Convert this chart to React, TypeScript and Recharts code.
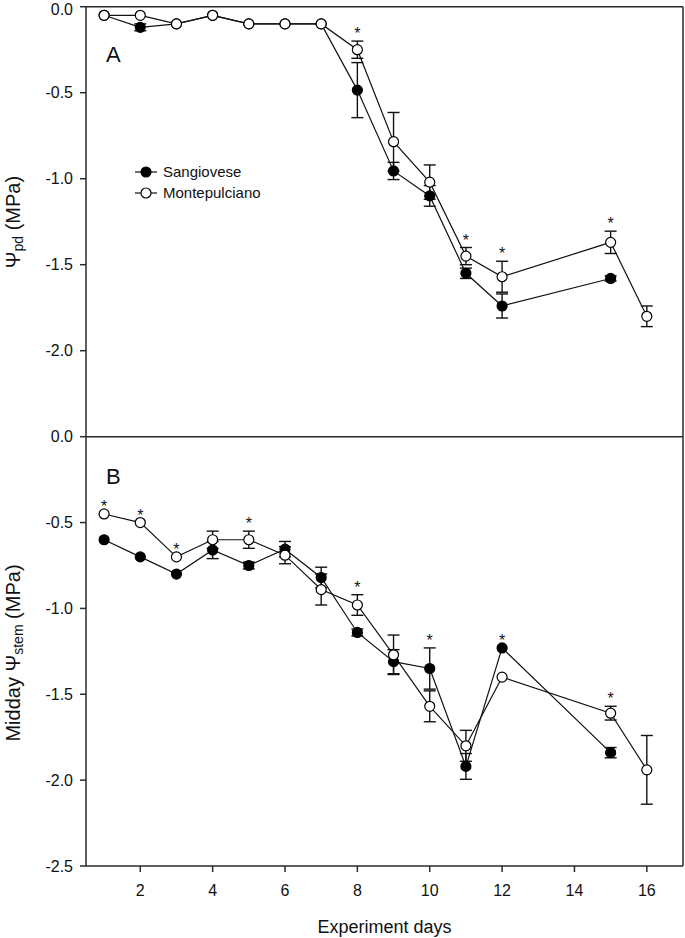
import React from 'react';
import { ComposedChart, Line, XAxis, YAxis, ErrorBar, ReferenceLine, Legend } from 'recharts';

const days = [1, 2, 3, 4, 5, 6, 7, 8, 9, 10, 11, 12, 15, 16];
const xTicks = [2, 4, 6, 8, 10, 12, 14, 16];
const seriesNames = ['Sangiovese', 'Montepulciano'];

// Panel A: predawn water potential (MPa)
const pdSangiovese = [-0.05, -0.12, -0.1, -0.05, -0.1, -0.1, -0.1, -0.485, -0.955, -1.1, -1.55, -1.74, -1.58, null];
const pdSangioveseErr = [0, 0.02, 0, 0, 0, 0, 0, 0.16, 0.05, 0.06, 0.03, 0.07, 0.015, 0];
const pdMontepulciano = [-0.05, -0.05, -0.1, -0.05, -0.1, -0.1, -0.1, -0.25, -0.785, -1.02, -1.45, -1.57, -1.37, -1.8];
const pdMontepulcianoErr = [0, 0, 0, 0, 0, 0, 0, 0.05, 0.17, 0.1, 0.05, 0.09, 0.065, 0.06];
const pdStars = [8, 11, 12, 15];
const pdTicks = [0, -0.5, -1, -1.5, -2];

// Panel B: midday stem water potential (MPa)
const stemSangiovese = [-0.6, -0.7, -0.8, -0.66, -0.75, -0.655, -0.82, -1.14, -1.31, -1.35, -1.92, -1.23, -1.84, null];
const stemSangioveseErr = [0, 0, 0, 0.05, 0.02, 0.045, 0.06, 0.02, 0.07, 0.12, 0.075, 0, 0.03, 0];
const stemMontepulciano = [-0.45, -0.5, -0.7, -0.6, -0.6, -0.69, -0.89, -0.98, -1.27, -1.57, -1.8, -1.4, -1.61, -1.94];
const stemMontepulcianoErr = [0, 0, 0, 0.05, 0.05, 0.05, 0.09, 0.06, 0.115, 0.09, 0.09, 0, 0.04, 0.2];
const stemStars = [1, 2, 3, 5, 8, 10, 12, 15];
const stemTicks = [0, -0.5, -1, -1.5, -2, -2.5];

type Row = { day: number; s: number | null; se: number | null; m: number | null; me: number | null; star: number | null };

function buildRows(s: (number | null)[], se: number[], m: (number | null)[], me: number[], stars: number[]): Row[] {
  return days.map((d, i) => {
    const tops: number[] = [];
    if (s[i] != null) tops.push((s[i] as number) + se[i]);
    if (m[i] != null) tops.push((m[i] as number) + me[i]);
    return {
      day: d,
      s: s[i],
      se: s[i] != null && se[i] > 0 ? se[i] : null,
      m: m[i],
      me: m[i] != null && me[i] > 0 ? me[i] : null,
      star: stars.includes(d) && tops.length ? Math.max(...tops) : null,
    };
  });
}

const rowsA = buildRows(pdSangiovese, pdSangioveseErr, pdMontepulciano, pdMontepulcianoErr, pdStars);
const rowsB = buildRows(stemSangiovese, stemSangioveseErr, stemMontepulciano, stemMontepulcianoErr, stemStars);

const FONT = '"Liberation Sans", Arial, sans-serif';
const INK = '#111';
const AXIS = '#2a2a2a';

const StarDot = (props: any) => {
  const { cx, cy, value } = props;
  if (value == null || cx == null || cy == null || isNaN(cy)) return <g key={props.key} />;
  return (
    <text key={props.key} x={cx} y={cy - 2} textAnchor="middle" fontSize={16} fill={INK} fontFamily={FONT}>
      *
    </text>
  );
};

const YTick = (props: any) => {
  const { x, y, payload } = props;
  return (
    <text x={x} y={Math.max(y, 9.5)} dy="0.355em" textAnchor="end" fontSize={16} fill={INK} fontFamily={FONT}>
      {Number(payload.value).toFixed(1)}
    </text>
  );
};

const PdTitle = () => (
  <text x={13} y={222} transform="rotate(-90 13 222)" textAnchor="middle" dominantBaseline="central" fontSize={20} fill={INK} fontFamily={FONT}>
    Ψ<tspan fontSize={14} dy={5}>pd</tspan>
    <tspan dy={-5}> (MPa)</tspan>
  </text>
);

const StemTitle = () => (
  <text x={13} y={233} transform="rotate(-90 13 233)" textAnchor="middle" dominantBaseline="central" fontSize={20} fill={INK} fontFamily={FONT}>
    Midday Ψ<tspan fontSize={14} dy={5}>stem</tspan>
    <tspan dy={-5}> (MPa)</tspan>
  </text>
);

const LegendContent = () => (
  <div style={{ fontFamily: FONT, fontSize: 15, color: INK }}>
    {seriesNames.map((n, i) => (
      <div key={n} style={{ display: 'flex', alignItems: 'center', height: 21 }}>
        <svg width={24} height={14} style={{ marginRight: 5 }}>
          <line x1={1} y1={7} x2={23} y2={7} stroke={INK} strokeWidth={1.2} />
          <circle cx={12} cy={7} r={5} fill={i === 0 ? '#000' : '#fff'} stroke="#000" strokeWidth={1.2} />
        </svg>
        <span>{n}</span>
      </div>
    ))}
  </div>
);

const xTickStyle = { fontSize: 16, fill: INK, fontFamily: FONT };

export default function App() {
  return (
    <div style={{ position: 'absolute', left: 0, top: 0, width: 685, height: 938, background: '#fff', fontFamily: FONT }}>
      <div style={{ position: 'absolute', left: 0, top: 0 }}>
        <ComposedChart width={685} height={440} data={rowsA} margin={{ top: 6.7, right: 2, bottom: 3.3, left: 0 }}>
          <XAxis
            dataKey="day"
            type="number"
            domain={[0.5, 17]}
            ticks={xTicks}
            allowDataOverflow
            height={0}
            mirror
            tick={false}
            tickSize={6}
            axisLine={{ stroke: AXIS, strokeWidth: 1.5 }}
            tickLine={{ stroke: AXIS, strokeWidth: 1.5 }}
          />
          <YAxis
            type="number"
            domain={[-2.5, 0]}
            ticks={pdTicks}
            interval={0}
            allowDataOverflow
            width={86}
            tick={<YTick />}
            tickSize={6}
            tickMargin={7}
            axisLine={{ stroke: AXIS, strokeWidth: 1.5 }}
            tickLine={{ stroke: AXIS, strokeWidth: 1.5 }}
            label={<PdTitle />}
          />
          <ReferenceLine y={0} stroke={AXIS} strokeWidth={1.5} />
          <ReferenceLine x={17} stroke={AXIS} strokeWidth={1.5} />
          <Line dataKey="s" name={seriesNames[0]} type="linear" stroke={INK} strokeWidth={1.2} isAnimationActive={false}
            dot={{ r: 5, fill: '#000', stroke: '#000', strokeWidth: 1.2 }} activeDot={false}>
            <ErrorBar dataKey="se" width={6} stroke={INK} strokeWidth={1.4} direction="y" />
          </Line>
          <Line dataKey="m" name={seriesNames[1]} type="linear" stroke={INK} strokeWidth={1.2} isAnimationActive={false}
            dot={{ r: 5, fill: '#fff', stroke: '#000', strokeWidth: 1.2 }} activeDot={false}>
            <ErrorBar dataKey="me" width={6} stroke={INK} strokeWidth={1.4} direction="y" />
          </Line>
          <Line dataKey="star" stroke="none" isAnimationActive={false} dot={StarDot} activeDot={false} legendType="none" />
          <Legend
            layout="vertical"
            align="center"
            verticalAlign="middle"
            content={<LegendContent />}
            wrapperStyle={{ left: 134, top: 161, width: 170, height: 44 }}
          />
        </ComposedChart>
      </div>
      <div style={{ position: 'absolute', left: 0, top: 420 }}>
        <ComposedChart width={685} height={518} data={rowsB} margin={{ top: 16.7, right: 2, bottom: 0, left: 0 }}>
          <XAxis
            dataKey="day"
            type="number"
            domain={[0.5, 17]}
            ticks={xTicks}
            allowDataOverflow
            height={72}
            tick={xTickStyle}
            tickSize={6}
            tickMargin={13}
            axisLine={{ stroke: AXIS, strokeWidth: 1.5 }}
            tickLine={{ stroke: AXIS, strokeWidth: 1.5 }}
            label={{ value: 'Experiment days', position: 'insideBottom', offset: 5, fontSize: 18, fill: INK, fontFamily: FONT }}
          />
          <YAxis
            type="number"
            domain={[-2.5, 0]}
            ticks={stemTicks}
            interval={0}
            allowDataOverflow
            width={86}
            tick={<YTick />}
            tickSize={6}
            tickMargin={7}
            axisLine={{ stroke: AXIS, strokeWidth: 1.5 }}
            tickLine={{ stroke: AXIS, strokeWidth: 1.5 }}
            label={<StemTitle />}
          />
          <ReferenceLine y={0} stroke={AXIS} strokeWidth={1.5} />
          <ReferenceLine x={17} stroke={AXIS} strokeWidth={1.5} />
          <Line dataKey="s" name={seriesNames[0]} type="linear" stroke={INK} strokeWidth={1.2} isAnimationActive={false}
            dot={{ r: 5, fill: '#000', stroke: '#000', strokeWidth: 1.2 }} activeDot={false}>
            <ErrorBar dataKey="se" width={6} stroke={INK} strokeWidth={1.4} direction="y" />
          </Line>
          <Line dataKey="m" name={seriesNames[1]} type="linear" stroke={INK} strokeWidth={1.2} isAnimationActive={false}
            dot={{ r: 5, fill: '#fff', stroke: '#000', strokeWidth: 1.2 }} activeDot={false}>
            <ErrorBar dataKey="me" width={6} stroke={INK} strokeWidth={1.4} direction="y" />
          </Line>
          <Line dataKey="star" stroke="none" isAnimationActive={false} dot={StarDot} activeDot={false} legendType="none" />
        </ComposedChart>
      </div>
      <div style={{ position: 'absolute', left: 106, top: 42, fontSize: 22, fontFamily: FONT, color: INK, lineHeight: '26px' }}>A</div>
      <div style={{ position: 'absolute', left: 106, top: 464, fontSize: 22, fontFamily: FONT, color: INK, lineHeight: '26px' }}>B</div>
    </div>
  );
}
